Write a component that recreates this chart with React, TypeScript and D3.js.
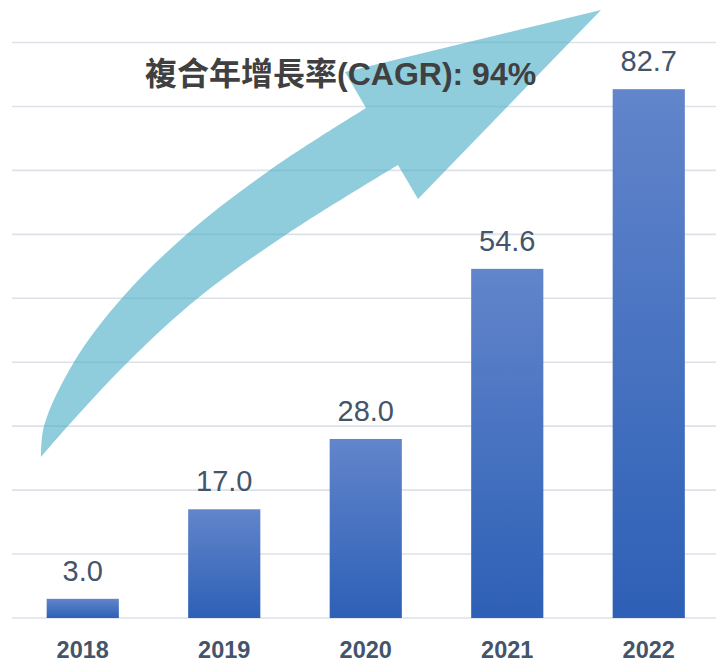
import React from "react";
import * as d3 from "d3";

const years: string[] = ["2018", "2019", "2020", "2021", "2022"];
const values: number[] = [3.0, 17.0, 28.0, 54.6, 82.7];
const gridTicks: number[] = [0, 10, 20, 30, 40, 50, 60, 70, 80, 90];
const titleText = "複合年增長率(CAGR): 94%";

const W = 716;
const H = 663;

// decorative arrow outline (annotation geometry)
const arrowUpper: [number, number][] = [
  [41, 457], [44, 426], [74, 362], [122, 298], [187, 234], [270, 170], [366, 108],
];
const arrowHead: [number, number][] = [
  [345, 72], [601, 10], [418, 199], [398, 165],
];
const arrowLower: [number, number][] = [
  [398, 165], [287, 234], [198, 298], [128, 362], [68, 426], [41, 457],
];

export default function App() {
  const x = d3
    .scaleBand<string>()
    .domain(years)
    .range([12, 719.5])
    .paddingInner(0.49)
    .paddingOuter(0.245);
  const y = d3.scaleLinear().domain([0, 90]).range([618, 42.5]);

  const curve = d3.line().curve(d3.curveCatmullRom.alpha(0.5));
  const upperD = curve(arrowUpper) as string;
  const lowerD = (curve(arrowLower) as string).replace(/^M[^C]*/, "");
  const headD = arrowHead.map((p) => `L${p[0]},${p[1]}`).join("");
  const arrowD = `${upperD}${headD}L${arrowLower[0][0]},${arrowLower[0][1]}${lowerD}Z`;

  const font = "'Liberation Sans', Arial, 'Noto Sans CJK TC', sans-serif";

  return (
    <svg
      width={W}
      height={H}
      style={{ position: "absolute", left: 0, top: 0, background: "#fff" }}
    >
      <defs>
        <linearGradient id="barGrad" x1="0" y1="0" x2="0" y2="1">
          <stop offset="0%" stopColor="#6285cb" />
          <stop offset="100%" stopColor="#2d60b6" />
        </linearGradient>
      </defs>
      {gridTicks.map((t) => (
        <line
          key={t}
          x1={12}
          x2={W}
          y1={y(t)}
          y2={y(t)}
          stroke="#dde1e8"
          strokeWidth={1.6}
        />
      ))}
      {years.map((yr, i) => (
        <rect
          key={yr}
          x={x(yr)}
          y={y(values[i])}
          width={x.bandwidth()}
          height={y(0) - y(values[i])}
          fill="url(#barGrad)"
        />
      ))}
      {years.map((yr, i) => (
        <text
          key={"v" + yr}
          x={(x(yr) as number) + x.bandwidth() / 2}
          y={y(values[i]) - 18}
          textAnchor="middle"
          fontFamily={font}
          fontSize={29}
          fill="#44546a"
        >
          {values[i].toFixed(1)}
        </text>
      ))}
      {years.map((yr) => (
        <text
          key={"x" + yr}
          x={(x(yr) as number) + x.bandwidth() / 2}
          y={658}
          textAnchor="middle"
          fontFamily={font}
          fontSize={23.5}
          fontWeight="bold"
          fill="#44546a"
        >
          {yr}
        </text>
      ))}
      <path d={arrowD} fill="#4bacc6" fillOpacity={0.62} />
      <text
        x={145}
        y={85}
        fontFamily={font}
        fontSize={32}
        fontWeight="bold"
        fill="#404040"
      >
        {titleText}
      </text>
    </svg>
  );
}
